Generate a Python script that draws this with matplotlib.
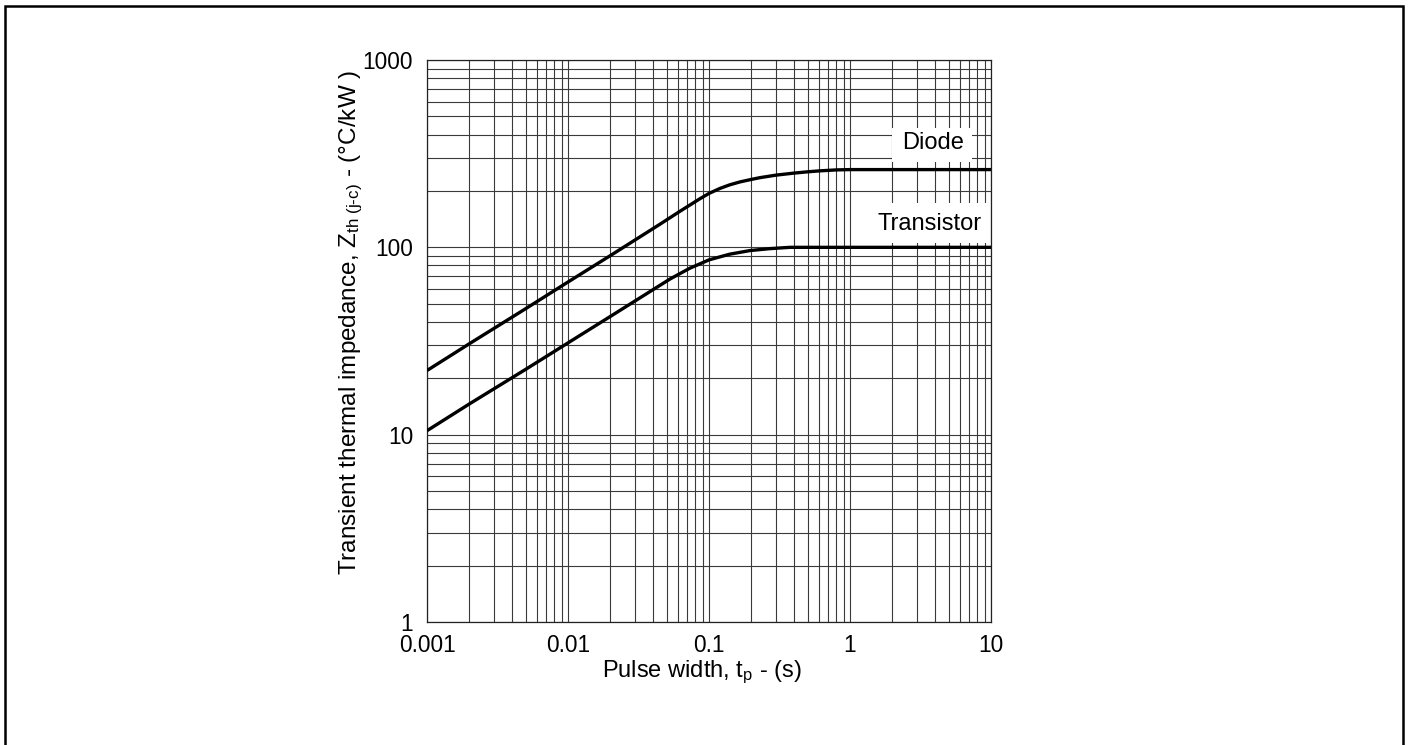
import matplotlib
matplotlib.use("Agg")
import matplotlib.pyplot as plt
from matplotlib.patches import Rectangle
from matplotlib.ticker import LogLocator, FixedLocator, FixedFormatter, NullFormatter

plt.rcParams['font.family'] = ['Liberation Sans', 'DejaVu Sans']
plt.rcParams['mathtext.fontset'] = 'custom'
plt.rcParams['mathtext.rm'] = 'Liberation Sans'
plt.rcParams['mathtext.it'] = 'Liberation Sans:italic'
plt.rcParams['mathtext.bf'] = 'Liberation Sans:bold'

# ---- data ----
diode_t = [0.001, 0.002, 0.005, 0.01, 0.02, 0.045, 0.062, 0.086, 0.1, 0.12, 0.14,
           0.166, 0.2, 0.23, 0.3, 0.4, 0.5, 0.61, 0.8, 1, 2, 5, 10]
diode_z = [22, 30.6, 47, 65.3, 90.4, 133, 155.5, 181.5, 194, 206.5, 215.5,
           223.5, 230.5, 235.5, 243, 249, 253, 256, 259, 260, 260, 260, 260]

trans_t = [0.001, 0.002, 0.005, 0.01, 0.02, 0.053, 0.073, 0.1, 0.14,
           0.195, 0.27, 0.375, 0.6, 1, 2, 5, 10]
trans_z = [10.5, 14.6, 22.3, 30.9, 42.8, 67.8, 77.3, 85.7, 91.9,
           96.1, 98.4, 100, 100, 100, 100, 100, 100]

x_ticks = [0.001, 0.01, 0.1, 1, 10]
x_tick_labels = ['0.001', '0.01', '0.1', '1', '10']
y_ticks = [1, 10, 100, 1000]
y_tick_labels = ['1', '10', '100', '1000']

curve_labels = ['Diode', 'Transistor']

W, H = 1410, 745
fig = plt.figure(figsize=(W / 100, H / 100), dpi=100)
ax = fig.add_axes([427 / W, 1 - 622 / H, (991 - 427) / W, (622 - 60) / H])

ax.set_xscale('log')
ax.set_yscale('log')
ax.set_xlim(0.001, 10)
ax.set_ylim(1, 1000)

ax.xaxis.set_major_locator(FixedLocator(x_ticks))
ax.xaxis.set_major_formatter(FixedFormatter(x_tick_labels))
ax.yaxis.set_major_locator(FixedLocator(y_ticks))
ax.yaxis.set_major_formatter(FixedFormatter(y_tick_labels))
ax.xaxis.set_minor_locator(LogLocator(base=10, subs=range(2, 10), numticks=20))
ax.yaxis.set_minor_locator(LogLocator(base=10, subs=range(2, 10), numticks=20))
ax.xaxis.set_minor_formatter(NullFormatter())
ax.yaxis.set_minor_formatter(NullFormatter())

ax.grid(True, which='both', color='#3a3a3a', linewidth=0.8)
ax.set_axisbelow(True)
ax.tick_params(which='both', length=0, labelsize=16.3, colors='black')
ax.tick_params(axis='y', pad=10)
ax.tick_params(axis='x', pad=9)
for s in ax.spines.values():
    s.set_color('#222222')
    s.set_linewidth(0.9)

ax.plot(diode_t, diode_z, color='black', linewidth=2.4, solid_capstyle='butt',
        solid_joinstyle='round', zorder=4)
ax.plot(trans_t, trans_z, color='black', linewidth=2.4, solid_capstyle='butt',
        solid_joinstyle='round', zorder=4)

# white label boxes covering the grid
def frac_x(px):
    return (px - 427) / 564

def frac_y(py):
    return (622 - py) / 562

for (x0, x1, y0, y1) in [(892, 972, 128, 162), (873, 987, 203, 243)]:
    ax.add_patch(Rectangle((frac_x(x0), frac_y(y1)), frac_x(x1) - frac_x(x0),
                           frac_y(y0) - frac_y(y1), transform=ax.transAxes,
                           facecolor='white', edgecolor='none', zorder=3))

ax.text(frac_x(933), frac_y(143), curve_labels[0], transform=ax.transAxes,
        ha='center', va='center', fontsize=17, zorder=5)
ax.text(frac_x(929.5), frac_y(224), curve_labels[1], transform=ax.transAxes,
        ha='center', va='center', fontsize=17, zorder=5)

ax.set_xlabel('Pulse width, t$_{\\rm p}$ - (s)', fontsize=17)
ax.xaxis.set_label_coords(frac_x(701.5), frac_y(659))
ax.set_ylabel('Transient thermal impedance, Z$_{\\rm th\\ (j\u2010c)}$ - (°C/kW )', fontsize=17.5)
ax.yaxis.set_label_coords(frac_x(365), frac_y(322))

# outer frame
fig.patches.append(Rectangle((4.5 / W, -0.02), (1402.5 - 4.5) / W, 1.02 - 5.5 / H,
                             transform=fig.transFigure, fill=False,
                             edgecolor='black', linewidth=1.8))

fig.savefig('out.png', dpi=100)
